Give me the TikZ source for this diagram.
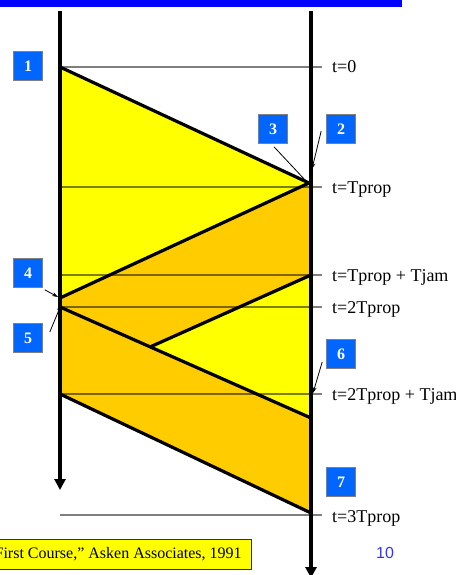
\documentclass[tikz,border=0pt]{standalone}
\usepackage{fontspec}
\setmainfont{Liberation Serif}
\newfontfamily\arialfont{Liberation Sans}
\usetikzlibrary{arrows.meta}
\definecolor{boxblue}{RGB}{0,102,255}
\definecolor{jamyellow}{RGB}{255,255,0}
\definecolor{jamorange}{RGB}{255,204,0}
\definecolor{pagenum}{RGB}{51,51,255}

\begin{document}
\begin{tikzpicture}[x=1pt, y=-1pt,
    tline/.style={black, opacity=0.5, line width=1.5pt},
    edge/.style={line width=3.2pt, line join=round},
    numbox/.style={fill=boxblue, draw=gray, line width=0.6pt, minimum width=29pt, minimum height=29pt, inner sep=0pt, text=white, font=\fontsize{16}{18}\selectfont\bfseries},
    tlabel/.style={anchor=base west, inner sep=0pt, font=\fontsize{18}{20}\selectfont},
    pointer/.style={-{Stealth[length=6pt,width=4pt]}, line width=0.8pt}]
    \useasboundingbox (0,0) rectangle (455,575);
    % --- title bar ---
    \fill[blue] (0,0) rectangle (402,7);

    % --- corner points of the signals ---
    \coordinate (A) at (60,67);
    \coordinate (B) at (309,183);
    \coordinate (C) at (60,298);
    \coordinate (D) at (311,275);
    \coordinate (E) at (150,347);
    \coordinate (F) at (60,307);
    \coordinate (G) at (311,418);
    \coordinate (H) at (311,513);
    \coordinate (I) at (60,394);

    % frame (orange), then the two yellow parts
    \fill[jamorange] (C) -- (B) -- (311,183) -- (D) -- (E) -- (G) -- (H) -- (I) -- cycle;
    \fill[jamyellow] (A) -- (B) -- (C) -- cycle;
    \fill[jamyellow] (E) -- (D) -- (G) -- cycle;

    % time lines
    \foreach \y in {67,187,275,307,394,515}
        \draw[tline] (60,\y) -- (322,\y);

    % --- the two stations ---
    \draw[line width=3.2pt, -{Triangle[length=11pt,width=11pt]}] (60,11) -- (60,490);
    \draw[line width=3.2pt, -{Triangle[length=11pt,width=11pt]}] (311,11) -- (311,578);

    % signal fronts
    \draw[edge] (A) -- (B) -- (C);
    \draw[edge] (D) -- (E);
    \draw[edge] (F) -- (G);
    \draw[edge] (I) -- (H);

    % --- time labels ---
    \node[tlabel] (t0) at (332,73) {t=0};
    \node[tlabel] (t1) at (332,193) {t=Tprop};
    \node[tlabel] (t2) at (332,281) {t=Tprop + Tjam};
    \node[tlabel] (t3) at (332,313) {t=2Tprop};
    \node[tlabel] (t4) at (332,400) {t=2Tprop + Tjam};
    \node[tlabel] (t5) at (332,522) {t=3Tprop};

    % --- numbered markers ---
    \node[numbox] (n1) at (28,66) {1};
    \node[numbox] (n2) at (341,129) {2};
    \node[numbox] (n3) at (273,129) {3};
    \node[numbox] (n4) at (28,273) {4};
    \node[numbox] (n5) at (28,338) {5};
    \node[numbox] (n6) at (341,354) {6};
    \node[numbox] (n7) at (341,482) {7};

    \coordinate (p2) at (312,169);
    \coordinate (p3) at (306,181);
    \coordinate (p4) at (58,297);
    \coordinate (p5) at (61,305);
    \coordinate (p6) at (313,393);
    \draw[pointer] ([shift={(-5,2)}]n2.west) -- (p2);
    \draw[line width=0.8pt] ([shift={(1,3)}]n3.south) -- (p3);
    \draw[pointer] ([shift={(2,2)}]n4.south east) -- (p4);
    \draw[pointer] ([shift={(7,-6)}]n5.east) -- (p5);
    \draw[pointer] ([shift={(-4,8)}]n6.west) -- (p6);

    % --- footer ---
    \node[draw=black!80, line width=0.6pt, fill=jamyellow, anchor=east, minimum height=30pt, inner xsep=10pt, inner ysep=0pt,
          font=\fontsize{16}{18}\selectfont] (cite) at (252,554) {First Course,” Asken Associates, 1991};
    \node[text=pagenum, font=\arialfont\fontsize{16}{18}\selectfont] (pg) at (385,553) {10};
\end{tikzpicture}
\end{document}
